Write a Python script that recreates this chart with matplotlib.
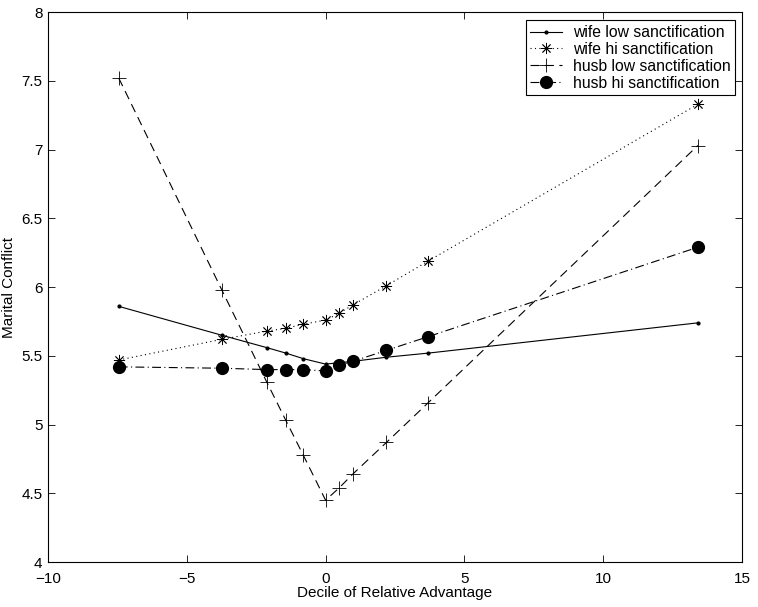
import matplotlib.pyplot as plt

plt.rcParams['font.family'] = ['Liberation Sans', 'DejaVu Sans']

# decile positions (shared by all series)
x_vals = [-7.45, -3.74, -2.12, -1.43, -0.81, 0.0, 0.49, 0.98, 2.19, 3.70, 13.41]

wife_low = [5.86, 5.65, 5.56, 5.52, 5.48, 5.44, 5.45, 5.46, 5.49, 5.52, 5.74]
wife_hi = [5.47, 5.62, 5.68, 5.70, 5.73, 5.76, 5.81, 5.87, 6.01, 6.19, 7.33]
husb_low = [7.52, 5.98, 5.31, 5.03, 4.78, 4.45, 4.54, 4.64, 4.87, 5.16, 7.03]
husb_hi = [5.42, 5.41, 5.40, 5.40, 5.40, 5.39, 5.43, 5.46, 5.54, 5.64, 6.29]

labels = ['wife low sanctification', 'wife hi sanctification',
          'husb low sanctification', 'husb hi sanctification']

fig = plt.figure(figsize=(7.58, 6.07), dpi=100)
ax = fig.add_axes([0.0633, 0.074, 0.9156, 0.906])

ax.plot(x_vals, wife_low, color='black', lw=0.8, ls='-', marker='.', ms=4, label=labels[0])
ax.plot(x_vals, wife_hi, color='black', lw=0.8, ls=(0, (1, 3)), marker=(8, 2, 0), ms=8,
        mew=0.6, label=labels[1])
ax.plot(x_vals, husb_low, color='black', lw=0.8, ls=(0, (8, 5)), marker='+', ms=10,
        mew=0.6, label=labels[2])
ax.plot(x_vals, husb_hi, color='black', lw=0.8, ls=(0, (8, 3, 1, 3)), marker='o', ms=8.5,
        label=labels[3])

ax.set_xlim(-10, 15)
ax.set_ylim(4, 8)
ax.set_xticks([-10, -5, 0, 5, 10, 15])
ax.set_yticks([4, 4.5, 5, 5.5, 6, 6.5, 7, 7.5, 8])
ax.set_yticklabels(['4', '4.5', '5', '5.5', '6', '6.5', '7', '7.5', '8'])
ax.tick_params(direction='in', top=True, right=True, labelsize=11, length=5, width=0.6)
ax.tick_params(axis='x', pad=7)
ax.tick_params(axis='y', pad=4)
for s in ax.spines.values():
    s.set_linewidth(0.8)
ax.set_xlabel('Decile of Relative Advantage', fontsize=11, labelpad=0)
ax.set_ylabel('Marital Conflict', fontsize=11, labelpad=4)

leg = ax.legend(loc='upper right', bbox_to_anchor=(0.99, 0.985), fontsize=11.3,
                fancybox=False, edgecolor='black', framealpha=1, handlelength=2.0,
                numpoints=1, borderpad=0.3, labelspacing=0.12, handletextpad=0.7,
                borderaxespad=0)
leg.get_frame().set_linewidth(0.8)

plt.savefig('out.png', dpi=100)
